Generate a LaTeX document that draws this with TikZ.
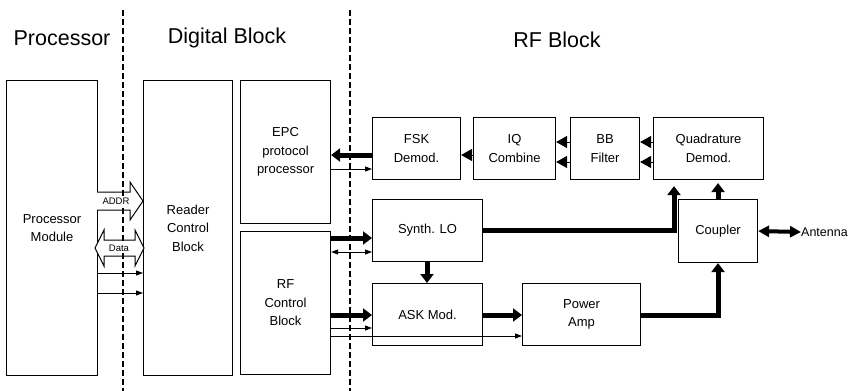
\documentclass[tikz,border=0pt]{standalone}
\usepackage{fontspec}
\setmainfont{Liberation Sans}
\usetikzlibrary{arrows.meta}
\begin{document}
\begin{tikzpicture}[x=1pt,y=-1pt,
  box/.style={draw, line width=1.1pt, align=center, anchor=north west,
    font=\fontsize{13}{18.5}\selectfont, inner sep=0pt},
  title/.style={font=\fontsize{21.5}{24}\selectfont},
  thickarr/.style={line width=5pt, -{Triangle[length=9pt,width=13pt]}},
  thinarr/.style={line width=0.9pt, -{Triangle[length=7pt,width=5pt]}},
  thinbi/.style={line width=0.9pt, {Triangle[length=7pt,width=5pt]}-{Triangle[length=7pt,width=5pt]}},
  headonly/.style={line width=1pt, -{Triangle[length=11pt,width=12pt]}},
  sep/.style={line width=2.5pt, dash pattern=on 6pt off 3pt},
  hollow/.style={draw, line width=1pt, fill=white},
  smalllbl/.style={font=\fontsize{9.5}{11}\selectfont, inner sep=1pt, fill=white}
]
\useasboundingbox (0,0) rectangle (849,391);

% titles
\node[title] (tproc) at (62,38) {Processor};
\node[title] (tdig) at (227,38) {Digital Block};
\node[title] (trf) at (557,40) {RF Block};

% boxes
\node[box, minimum width=91pt, minimum height=295pt] (pm) at (6,80) {Processor\\Module};
\node[box, minimum width=89pt, minimum height=295pt] (rcb) at (143,80) {Reader\\Control\\Block};
\node[box, minimum width=90pt, minimum height=143pt] (epc) at (240,80) {EPC\\protocol\\processor};
\node[box, minimum width=90pt, minimum height=143pt] (rfc) at (240,231) {RF\\Control\\Block};
\node[box, minimum width=88pt, minimum height=62pt] (fsk) at (372,117) {FSK\\Demod.};
\node[box, minimum width=82pt, minimum height=62pt] (iq) at (473,117) {IQ\\Combine};
\node[box, minimum width=69pt, minimum height=62pt] (bb) at (570,117) {BB\\Filter};
\node[box, minimum width=110pt, minimum height=62pt] (qd) at (653,117) {Quadrature\\Demod.};
\node[box, minimum width=110pt, minimum height=62pt] (syn) at (372,199) {Synth. LO};
\node[box, minimum width=110pt, minimum height=62pt] (ask) at (372,283) {ASK Mod.};
\node[box, minimum width=118pt, minimum height=62pt] (pa) at (522,283) {Power\\Amp};
\node[box, minimum width=79pt, minimum height=63pt] (cpl) at (678,199) {Coupler};
\node[anchor=west, inner sep=0pt, font=\fontsize{12.5}{15}\selectfont] (ant) at (801,232) {Antenna};

% processor <-> reader control
\draw[hollow] (97,192) -- (130,192) -- (130,182) -- (143,201) -- (130,220) -- (130,210) -- (97,210);
\draw[hollow] (95,248) -- (104,230) -- (104,240) -- (135,240) -- (135,230) -- (144,248)
  -- (135,266) -- (135,256) -- (104,256) -- (104,266) -- cycle;
\draw[thinarr] (pm.east |- 0,273) -- (rcb.west |- 0,273);
\draw[thinarr] (pm.east |- 0,293) -- (rcb.west |- 0,293);

% EPC <-> FSK
\draw[thickarr] (fsk.west |- 0,155) -- (epc.east |- 0,155);
\draw[thinarr] (epc.east |- 0,169) -- (fsk.west |- 0,169);

% top row chain
\draw[headonly] (iq.west |- 0,155) -- (fsk.east |- 0,155);
\draw[headonly] (bb.west |- 0,142) -- (iq.east |- 0,142);
\draw[headonly] (bb.west |- 0,162) -- (iq.east |- 0,162);
\draw[headonly] (qd.west |- 0,142) -- (bb.east |- 0,142);
\draw[headonly] (qd.west |- 0,162) -- (bb.east |- 0,162);

% RF control -> synth / ask
\draw[thickarr] (rfc.east |- 0,238) -- (syn.west |- 0,238);
\draw[thinbi] (rfc.east |- 0,252) -- (syn.west |- 0,252);
\draw[thickarr] (syn.south -| 427,0) -- (ask.north -| 427,0);
\draw[thickarr] (rfc.east |- 0,315) -- (ask.west |- 0,315);
\draw[thinarr] (rfc.east |- 0,328) -- (ask.west |- 0,328);
\draw[thinarr] (rfc.east |- 0,336) -- (pa.west |- 0,336);
\draw[thickarr] (ask.east |- 0,315) -- (pa.west |- 0,315);

% to coupler / quadrature
\draw[thickarr, shorten >=6pt] (syn.east |- 0,230) -| (qd.south -| 674,0);
\draw[thickarr, shorten >=3pt] (cpl.north) -- (cpl.north |- qd.south);
\draw[thickarr] (pa.east |- 0,315) -| (cpl.south);
\draw[line width=4pt, {Triangle[length=11pt,width=11pt]}-{Triangle[length=11pt,width=11pt]}] (cpl.east) -- (ant.west);

% separators
\draw[sep] (123,10) -- (123,391);
\draw[sep] (350,10) -- (350,391);

% bus labels over separator
\node[smalllbl] (addr) at (116,201) {ADDR};
\node[smalllbl] (data) at (119,248) {Data};
\end{tikzpicture}
\end{document}
